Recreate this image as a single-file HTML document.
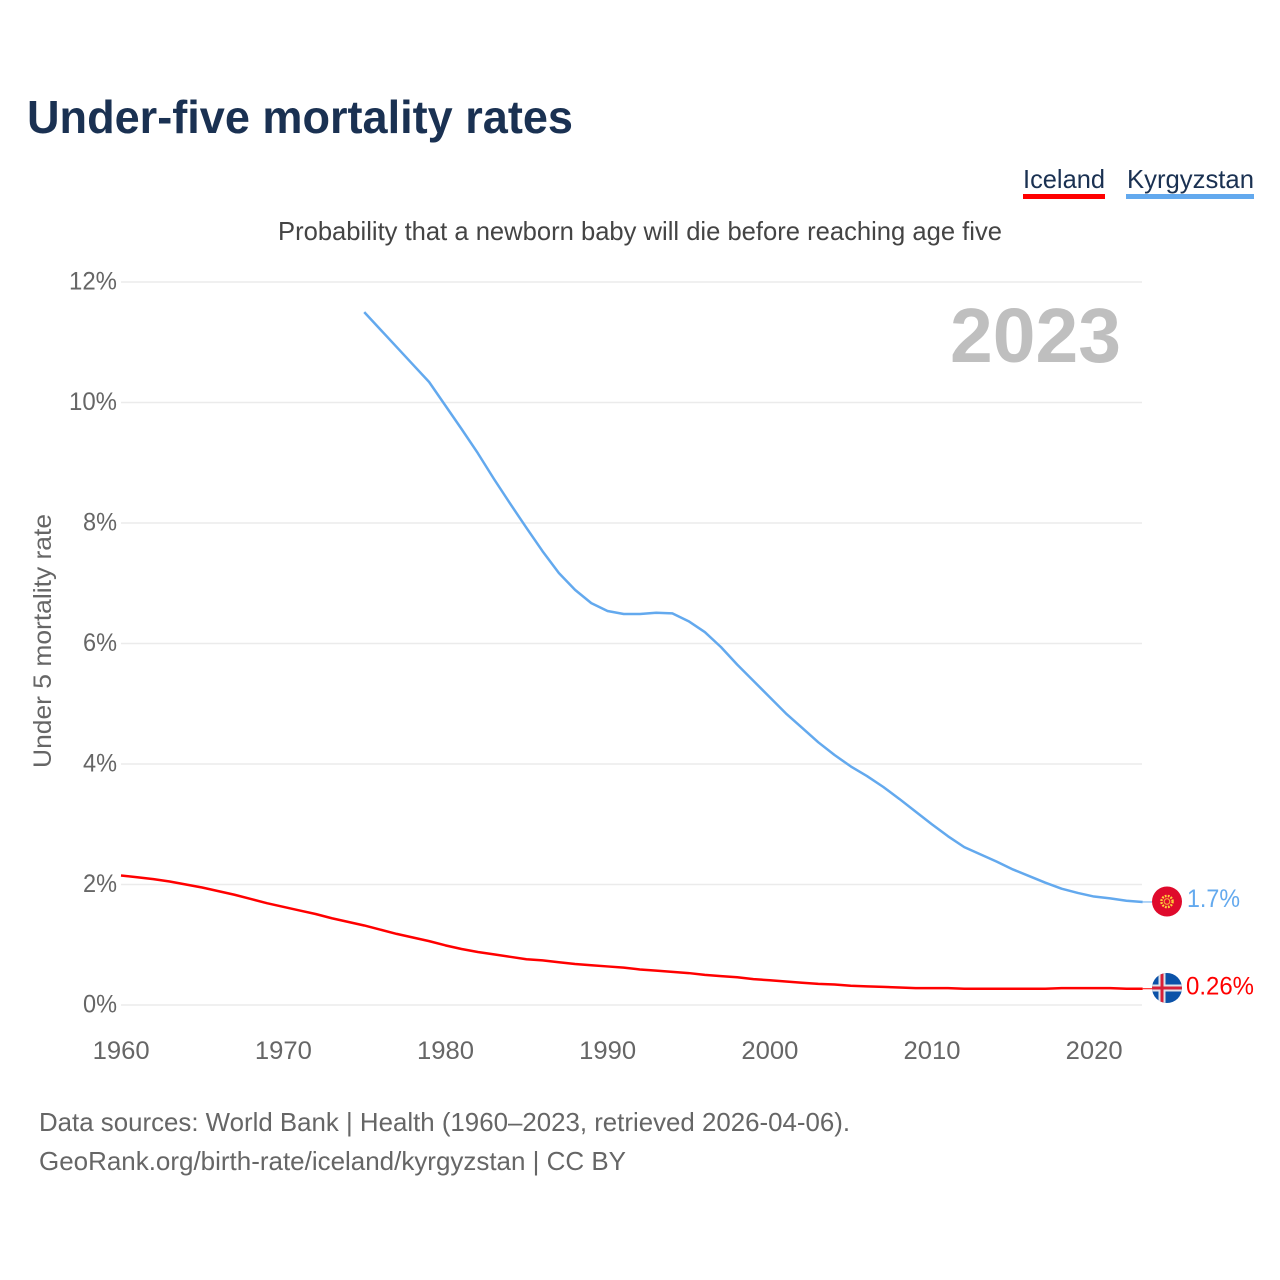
<!DOCTYPE html>
<html lang="en">
<head>
<meta charset="utf-8">
<title>Under-five mortality rates</title>
<style>
html,body{margin:0;padding:0;background:#fff;width:1280px;height:1280px;overflow:hidden}
svg{display:block}
text{font-family:"Liberation Sans",sans-serif}
</style>
</head>
<body>
<svg id="chart" width="1280" height="1280" viewBox="0 0 1280 1280" xmlns="http://www.w3.org/2000/svg">
  <rect width="1280" height="1280" fill="#fff"/>
  <text x="27" y="133" font-size="46" font-weight="700" fill="#1a3152" textLength="546" lengthAdjust="spacingAndGlyphs">Under-five mortality rates</text>

  <g>
    <text x="1023" y="188" font-size="26" fill="#1a3152" textLength="82" lengthAdjust="spacingAndGlyphs">Iceland</text>
    <rect x="1023" y="194" width="82" height="5" fill="#ff0000"/>
  </g>
  <g>
    <text x="1127" y="188" font-size="26" fill="#1a3152" textLength="127" lengthAdjust="spacingAndGlyphs">Kyrgyzstan</text>
    <rect x="1126" y="194" width="128" height="5" fill="#63a9ee"/>
  </g>

  <text x="278" y="240" font-size="26" fill="#444" textLength="724" lengthAdjust="spacingAndGlyphs">Probability that a newborn baby will die before reaching age five</text>

  <g id="grid"></g>
  <g id="yticks"></g>
  <g id="xticks"></g>

  <text x="950" y="362" font-size="77" font-weight="700" fill="#bfbfbf" textLength="171" lengthAdjust="spacingAndGlyphs">2023</text>

  <text transform="translate(51,641) rotate(-90)" text-anchor="middle" font-size="25" fill="#666" textLength="254" lengthAdjust="spacingAndGlyphs">Under 5 mortality rate</text>

  <g id="series"></g>

  <defs>
    <clipPath id="clip-is"><circle cx="1167" cy="988" r="15"/></clipPath>
  </defs>

  <g>
    <circle cx="1167" cy="901.5" r="15" fill="#df0a2c"/>
    <circle cx="1167" cy="901.5" r="5.6" fill="none" stroke="#ffd23a" stroke-width="2.4" stroke-dasharray="1.8 1.2"/>
    <circle cx="1167" cy="901.5" r="2.8" fill="none" stroke="#f6a13a" stroke-width="1.2"/>
  </g>
  <g clip-path="url(#clip-is)">
    <rect x="1152" y="973" width="30" height="30" fill="#0b52a8"/>
    <rect x="1152" y="984.5" width="30" height="7" fill="#dfe3ea"/>
    <rect x="1158.5" y="973" width="7" height="30" fill="#dfe3ea"/>
    <rect x="1152" y="986.5" width="30" height="3" fill="#d72038"/>
    <rect x="1160.5" y="973" width="3" height="30" fill="#d72038"/>
  </g>

  <text x="1187" y="907" font-size="25" fill="#63a9ee" textLength="53" lengthAdjust="spacingAndGlyphs">1.7%</text>
  <text x="1186" y="994.5" font-size="25" fill="#ff0000" textLength="68" lengthAdjust="spacingAndGlyphs">0.26%</text>

  <text x="39" y="1131" font-size="26" fill="#666" textLength="811" lengthAdjust="spacingAndGlyphs">Data sources: World Bank | Health (1960–2023, retrieved 2026-04-06).</text>
  <text x="39" y="1170" font-size="26" fill="#666" textLength="587" lengthAdjust="spacingAndGlyphs">GeoRank.org/birth-rate/iceland/kyrgyzstan | CC BY</text>
</svg>
<script>
const yTickValues = [0, 2, 4, 6, 8, 10, 12];
const xTickYears = [1960, 1970, 1980, 1990, 2000, 2010, 2020];
const icelandStartYear = 1960;
const icelandValues = [2.15,2.12,2.09,2.05,2.00,1.95,1.89,1.83,1.76,1.69,1.63,1.57,1.51,1.44,1.38,1.32,1.25,1.18,1.12,1.06,0.99,0.93,0.88,0.84,0.80,0.76,0.74,0.71,0.68,0.66,0.64,0.62,0.59,0.57,0.55,0.53,0.50,0.48,0.46,0.43,0.41,0.39,0.37,0.35,0.34,0.32,0.31,0.30,0.29,0.28,0.28,0.28,0.27,0.27,0.27,0.27,0.27,0.27,0.28,0.28,0.28,0.28,0.27,0.27];
const kyrgyzstanStartYear = 1975;
const kyrgyzstanValues = [11.50,11.21,10.92,10.63,10.34,9.95,9.56,9.16,8.73,8.32,7.92,7.53,7.17,6.89,6.67,6.54,6.49,6.49,6.51,6.50,6.37,6.19,5.94,5.65,5.38,5.11,4.84,4.60,4.36,4.15,3.96,3.80,3.62,3.42,3.21,3.00,2.80,2.62,2.50,2.38,2.25,2.14,2.03,1.93,1.86,1.80,1.77,1.73,1.71];

const NS = 'http://www.w3.org/2000/svg';
const xScale = year => 121 + (year - 1960) * (1094 - 121) / 60;
const yScale = value => 1005 - value * (1005 - 282) / 12;

function make(tag, attrs, parent, txt) {
  const el = document.createElementNS(NS, tag);
  for (const k in attrs) el.setAttribute(k, attrs[k]);
  if (txt !== undefined) el.textContent = txt;
  parent.appendChild(el);
  return el;
}

const grid = document.getElementById('grid');
const yticks = document.getElementById('yticks');
yTickValues.forEach(v => {
  const line = make('line', {x1: 121, x2: 1142, y1: yScale(v), y2: yScale(v), stroke: '#ebebeb', 'stroke-width': 1.5}, grid);
  
  
  const label = v + '%';
  const w = (label.length - 1) * 14 + 20;
  const t = make('text', {x: 117 - w, y: yScale(v) + 7.5, 'font-size': 25, fill: '#666', textLength: w, lengthAdjust: 'spacingAndGlyphs'}, yticks, label);
  
  
});

const xticks = document.getElementById('xticks');
xTickYears.forEach(y => {
  const t = make('text', {x: xScale(y) - 28.3, y: 1059, 'font-size': 25, fill: '#666', textLength: 57, lengthAdjust: 'spacingAndGlyphs'}, xticks, String(y));
  
  
});

function linePoints(start, values) {
  return values.map((v, i) => xScale(start + i).toFixed(2) + ',' + yScale(v).toFixed(2)).join(' ');
}

const series = document.getElementById('series');

const kgLine = make('polyline', {points: linePoints(kyrgyzstanStartYear, kyrgyzstanValues), fill: 'none', stroke: '#63a9ee', 'stroke-width': 2.5, 'stroke-linejoin': 'round'}, series);



const isLine = make('polyline', {points: linePoints(icelandStartYear, icelandValues), fill: 'none', stroke: '#ff0000', 'stroke-width': 2.5, 'stroke-linejoin': 'round'}, series);



const lastKg = kyrgyzstanValues[kyrgyzstanValues.length - 1];
const kgConn = make('line', {x1: xScale(2023), x2: 1152, y1: yScale(lastKg), y2: yScale(lastKg), stroke: '#63a9ee', 'stroke-width': 1}, series);



const lastIs = icelandValues[icelandValues.length - 1];
const isConn = make('line', {x1: xScale(2023), x2: 1152, y1: yScale(lastIs), y2: yScale(lastIs), stroke: '#ff0000', 'stroke-width': 1}, series);


</script>
</body>
</html>
